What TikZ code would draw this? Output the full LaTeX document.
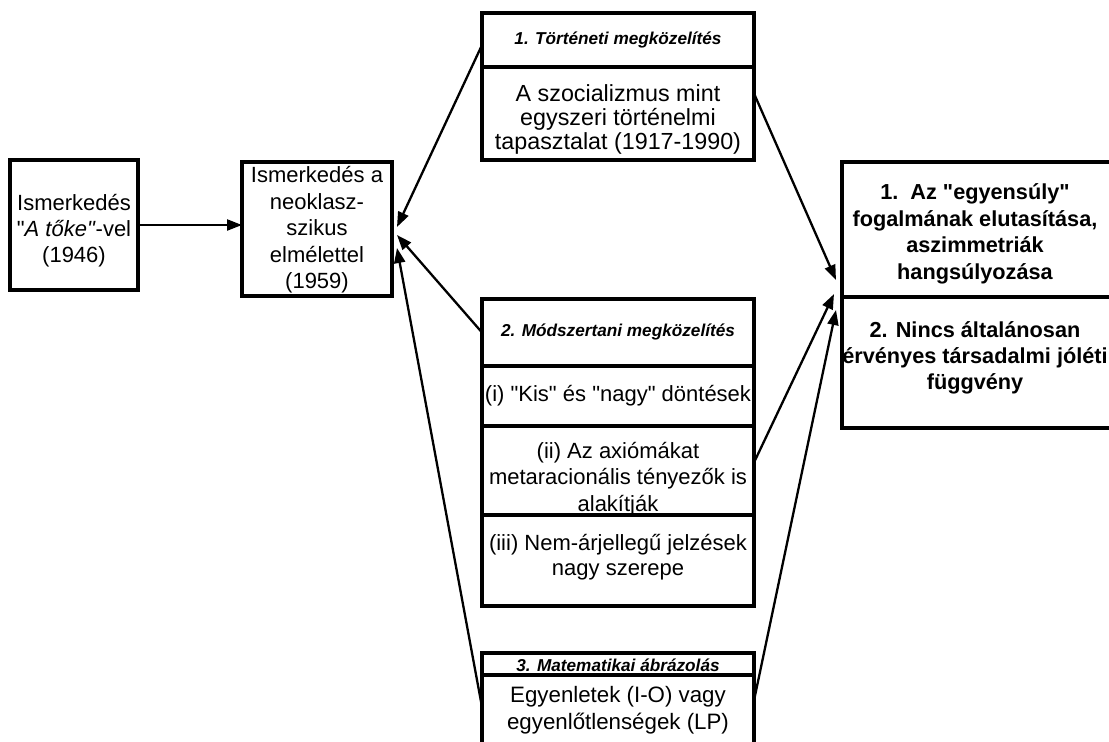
\documentclass[tikz,border=0pt]{standalone}
\usepackage{fontspec}
\setmainfont{Liberation Sans}[Ligatures=TeXOff]
\usetikzlibrary{arrows.meta,calc}
\begin{document}
\begin{tikzpicture}[x=1pt,y=-1pt,
  box/.style={draw=black,line width=4.5pt,inner sep=0pt,outer sep=0pt},
  txt/.style={align=center,inner sep=0pt},
  reg/.style={txt,font=\fontsize{22}{26}\selectfont},
  hdr/.style={txt,font=\fontsize{17.2}{20}\selectfont\bfseries\itshape},
  bld/.style={txt,font=\fontsize{21.7}{26.5}\selectfont\bfseries},
  arr/.style={line width=2.3pt,-{Triangle[length=15pt,width=11pt]}},
]
\useasboundingbox (0,0) rectangle (1109,742);
\clip (0,0) rectangle (1109,742);
% boxes
\node[box,minimum width=128,minimum height=130] (A) at (74,225) {};
\node[box,minimum width=150,minimum height=134] (B) at (317,229) {};
\node[box,minimum width=272,minimum height=54] (h1) at (618,40) {};
\node[box,minimum width=272,minimum height=93] (b1) at (618,113.5) {};
\node[box,minimum width=272,minimum height=67] (h2) at (618,332.5) {};
\node[box,minimum width=272,minimum height=60] (r1) at (618,396) {};
\node[box,minimum width=272,minimum height=89] (r2) at (618,470.5) {};
\node[box,minimum width=272,minimum height=91] (r3) at (618,560.5) {};
\node[box,minimum width=272,minimum height=22] (h3) at (618,664) {};
\node[box,minimum width=272,minimum height=85] (b3) at (618,717.5) {};
\node[box,minimum width=272,minimum height=135] (R1) at (978,229.5) {};
\node[box,minimum width=272,minimum height=131] (R2) at (978,362.5) {};
% texts
\node[reg] (tA) at (74,231) {Ismerkedés\\"\textit{A tőke"}-vel\\(1946)};
\node[reg,font=\fontsize{22}{26.5}\selectfont] (tB) at (317,230) {Ismerkedés a\\neoklasz-\\szikus\\elmélettel\\(1959)};
\node[hdr] (th1) at (618,40) {1. Történeti megközelítés};
\node[reg,font=\fontsize{23.3}{24}\selectfont] (tb1) at (618,119) {A szocializmus mint\\egyszeri történelmi\\tapasztalat (1917-1990)};
\node[hdr] (th2) at (618,332) {2. Módszertani megközelítés};
\node[reg] (tr1) at (618,396) {(i) "Kis" és "nagy" döntések};
\node[reg,font=\fontsize{22}{26.5}\selectfont] (tr2) at (618,479) {(ii) Az axiómákat\\metaracionális tényezők is\\alakítják};
\node[reg,font=\fontsize{22}{25.5}\selectfont] (tr3) at (618,557) {(iii) Nem-árjellegű jelzések\\nagy szerepe};
\node[hdr] (th3) at (618,665) {3. Matematikai ábrázolás};
\node[reg,font=\fontsize{22.3}{27}\selectfont] (tb3) at (618,710) {Egyenletek (I-O) vagy\\egyenlőtlenségek (LP)};
\node[bld] (tR1) at (975,234) {1.~~Az "egyensúly"\\fogalmának elutasítása,\\aszimmetriák\\hangsúlyozása};
\node[bld,font=\fontsize{21.7}{26}\selectfont\bfseries] (tR2) at (975,358) {2. Nincs általánosan\\érvényes társadalmi jóléti\\függvény};
% connectors
\draw[arr] (A.east) -- (A.east -| B.west);
\draw[arr] ($(h1.west)+(0,5)$) -- ($(B.east)+(5,-2)$);
\draw[arr] (h2.west) -- ($(B.east)+(5,6)$);
\draw[arr] ($(b3.west)+(0,-10.5)$) -- ($(B.east)+(5,19)$);
\draw[arr] ($(b1.east)+(0,-20)$) -- ($(R1.south west)+(-6,-17)$);
\draw[arr] ($(r2.east)+(0,-8)$) -- ($(R1.south west)+(-8,-3)$);
\draw[arr] ($(b3.east)+(0,-17)$) -- ($(R1.south west)+(-6,13)$);
\end{tikzpicture}
\end{document}
